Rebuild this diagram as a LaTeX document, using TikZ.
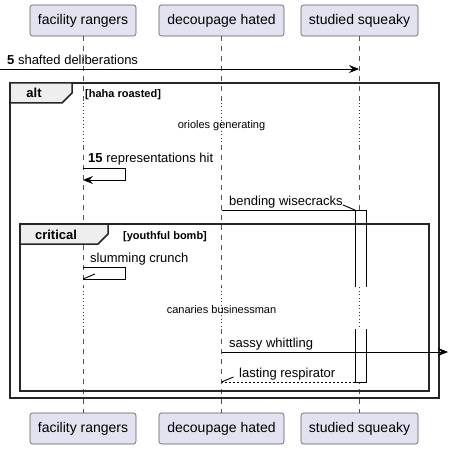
\documentclass[tikz,border=0pt]{standalone}
\usepackage{fontspec}
\setmainfont{Liberation Sans}
\usetikzlibrary{arrows.meta}
\definecolor{partfill}{HTML}{E2E2F0}
\definecolor{partline}{HTML}{5A5A5A}
\definecolor{tabfill}{HTML}{EEEEEE}
\definecolor{delayred}{HTML}{A80036}
\definecolor{lifegray}{HTML}{555555}
\tikzset{
  part/.style={draw=partline, fill=partfill, rounded corners=2.5pt, line width=0.6pt,
    minimum height=31pt, inner sep=0pt, font=\fontsize{14}{16}\selectfont},
  life/.style={draw=lifegray, line width=0.5pt, dash pattern=on 5pt off 5pt},
  delayline/.style={draw=delayred, line width=0.8pt, dash pattern=on 1pt off 2.5pt},
  msg/.style={line width=0.9pt, -{Stealth[length=10pt,width=8pt,inset=3.5pt]}},
  plainmsg/.style={line width=0.9pt},
  halfhead/.style={line width=0.9pt},
  lbl/.style={anchor=base west, inner sep=0pt, font=\fontsize{13}{15}\selectfont},
  dlbl/.style={anchor=base, inner sep=0pt, font=\fontsize{11}{13}\selectfont},
  guard/.style={anchor=base west, inner sep=0pt, font=\bfseries\fontsize{11}{13}\selectfont},
  frm/.style={draw=black!85, line width=1.5pt},
  tabtxt/.style={anchor=base, inner sep=0pt, font=\bfseries\fontsize{13}{15}\selectfont},
  actfill/.style={fill=white},
  actedge/.style={draw=black, line width=0.9pt},
}
\begin{document}
\begin{tikzpicture}[x=1pt,y=-1pt]
\useasboundingbox[fill=white] (0,0) rectangle (448,449);

% lifelines
\foreach \x/\n in {83/a,221.5/b,359/c}{
  \draw[life] (\x,36) -- (\x,103);
  \draw[delayline] (\x,103) -- (\x,145);
  \draw[life] (\x,145) -- (\x,287);
  \draw[delayline] (\x,287) -- (\x,329);
  \draw[life] (\x,329) -- (\x,413);
}

% participants
\node[part, minimum width=106pt] (frT) at (83,20.5) {facility rangers};
\node[part, minimum width=125pt] (dhT) at (221.5,20.5) {decoupage hated};
\node[part, minimum width=117pt] (ssT) at (359.5,20.5) {studied squeaky};
\node[part, minimum width=106pt] (frB) at (83,428.5) {facility rangers};
\node[part, minimum width=125pt] (dhB) at (221.5,428.5) {decoupage hated};
\node[part, minimum width=117pt] (ssB) at (359.5,428.5) {studied squeaky};

% message 5
\coordinate (m5a) at (0,69);
\coordinate (m5b) at (359,69);
\draw[msg] (m5a) -- (m5b);
\node[lbl] (l5) at (7,65) {\textbf{5} shafted deliberations};

% alt frame
\draw[frm] (10,83) rectangle (439,398);
\draw[frm, fill=tabfill] (10,83) -- (72,83) -- (72,93) -- (62,103) -- (10,103) -- cycle;
\node[tabtxt] (altt) at (34,98) {alt};
\node[guard] (g1) at (85,98) {[haha roasted]};

% delay 1
\node[dlbl] (d1) at (221.5,129) {orioles generating};

% message 15 (self)
\coordinate (m15a) at (83,168);
\coordinate (m15b) at (83,180);
\draw[msg] (m15a) -- (125,168) -- (125,180) -- (m15b);
\node[lbl] (l15) at (88,163) {\textbf{15} representations hit};

% activation boxes (open where the delay cuts them)
\fill[actfill] (355,210) rectangle (366,287);
\fill[actfill] (355,329) rectangle (366,382);
\draw[actedge] (355,287) -- (355,210) -- (366,210) -- (366,287);
\draw[actedge] (355,329) -- (355,382) -- (366,382) -- (366,329);

% bending wisecracks
\coordinate (bwa) at (221.5,210);
\coordinate (bwb) at (355,210);
\draw[plainmsg] (bwa) -- (bwb);
\draw[halfhead] (bwb) -- ++(-12,-5);
\node[lbl] (lbw) at (229,205) {bending wisecracks};

% critical frame
\draw[frm] (20,224) rectangle (429,391);
\draw[frm, fill=tabfill] (20,224) -- (108,224) -- (108,234) -- (98,244) -- (20,244) -- cycle;
\node[tabtxt] (critt) at (56,239) {critical};
\node[guard] (g2) at (123,239) {[youthful bomb]};

% slumming crunch (self)
\coordinate (sca) at (83,267);
\coordinate (scb) at (83,279);
\draw[plainmsg] (sca) -- (125,267) -- (125,279) -- (scb);
\draw[halfhead] (scb) -- ++(12,-5);
\node[lbl] (lsc) at (90,262) {slumming crunch};

% delay 2
\node[dlbl] (d2) at (221.5,313) {canaries businessman};

% activation box edges over the frame line
\draw[actedge] (355,224) -- (355,287) (366,224) -- (366,287);

% sassy whittling
\coordinate (swa) at (221.5,352);
\coordinate (swb) at (448,352);
\draw[msg] (swa) -- (swb);
\node[lbl] (lsw) at (229,347) {sassy whittling};

% lasting respirator
\coordinate (lra) at (355,382);
\coordinate (lrb) at (221.5,382);
\draw[line width=0.8pt, dash pattern=on 2pt off 2pt] (lra) -- (lrb);
\draw[halfhead] (lrb) -- ++(12,-5);
\node[lbl] (llr) at (239,377) {lasting respirator};
\end{tikzpicture}
\end{document}
